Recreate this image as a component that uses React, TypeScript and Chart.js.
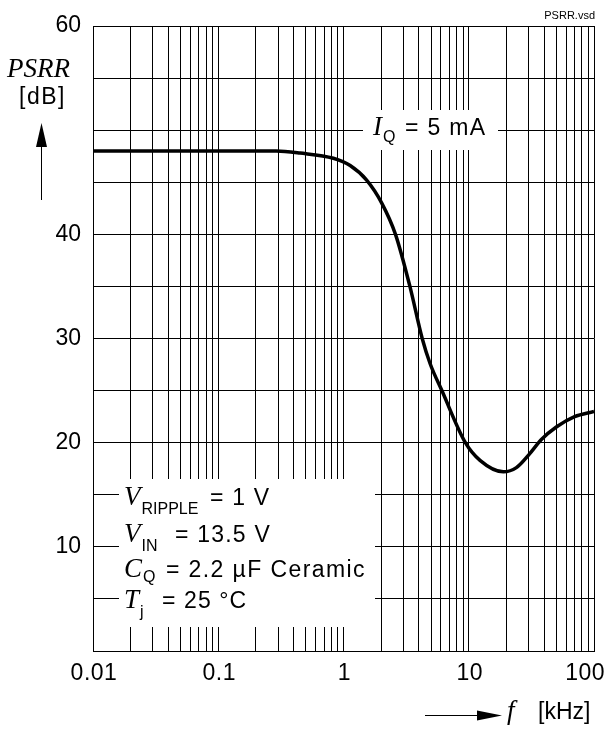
import React, { useEffect, useRef } from "react";
import { Chart, registerables } from "chart.js";

Chart.register(...registerables);

// ---- data ----
const freqKHz = [0.01, 0.1, 0.2, 0.29, 0.45, 0.83, 1.13, 1.53, 2.02, 2.6, 3.39, 4.25, 4.91, 6.1, 9.4, 12.3, 18.9, 24, 30, 38, 50, 70, 100];
const psrrDb = [48, 48, 48, 48, 47.8, 47.3, 46.6, 45.2, 43.0, 40.0, 35.0, 30.0, 27.6, 25.0, 20.0, 18.3, 17.2, 17.6, 18.8, 20.3, 21.5, 22.5, 23.0];

const xGridValues = [
  0.01, 0.02, 0.03, 0.04, 0.05, 0.06, 0.07, 0.08, 0.09,
  0.1, 0.2, 0.3, 0.4, 0.5, 0.6, 0.7, 0.8, 0.9,
  1, 2, 3, 4, 5, 6, 7, 8, 9,
  10, 20, 30, 40, 50, 60, 70, 80, 90,
  100,
];
const xTickValues = [0.01, 0.1, 1, 10, 100];
const xTickLabels = ["0.01", "0.1", "1", "10", "100"];
const yGridValues = [0, 5, 10, 15, 20, 25, 30, 35, 40, 45, 50, 55, 60];
const yTickLabels = [10, 20, 30, 40, 60];

const SANS = "'Liberation Sans', Arial, sans-serif";
const SERIF = "'Liberation Serif', 'Times New Roman', serif";

type Part = [string, string, number, number, number?];

function drawParts(ctx: CanvasRenderingContext2D, parts: Part[]) {
  for (const [text, font, x, y, ls] of parts) {
    ctx.font = font;
    (ctx as any).letterSpacing = `${ls ?? 0}px`;
    ctx.fillText(text, x, y);
  }
  (ctx as any).letterSpacing = "0px";
}

const TXT = `23px ${SANS}`;
const SUB = `16px ${SANS}`;
const ITA = `italic 27px ${SERIF}`;

const decor = {
  id: "decor",
  beforeDatasetsDraw(chart: any) {
    const ctx = chart.ctx as CanvasRenderingContext2D;
    ctx.save();
    ctx.fillStyle = "#ffffff";
    ctx.fillRect(119, 479, 256, 148);
    ctx.fillRect(363, 110, 135, 40);
    ctx.restore();
  },
  afterDraw(chart: any) {
    const ctx = chart.ctx as CanvasRenderingContext2D;
    const xs = chart.scales.x;
    ctx.save();
    ctx.fillStyle = "#000";
    ctx.strokeStyle = "#000";
    ctx.textBaseline = "alphabetic";

    // x tick labels
    ctx.font = TXT;
    (ctx as any).letterSpacing = "0.5px";
    ctx.textAlign = "center";
    xTickValues.forEach((v, i) => {
      let px = xs.getPixelForValue(v);
      const w = ctx.measureText(xTickLabels[i]).width;
      if (px + w / 2 > 604) px = 604 - w / 2;
      ctx.fillText(xTickLabels[i], px + 1, 679.5);
    });
    (ctx as any).letterSpacing = "0px";

    // file name
    ctx.font = `11px ${SANS}`;
    ctx.textAlign = "right";
    ctx.fillText("PSRR.vsd", 595, 19);
    ctx.textAlign = "left";

    // y axis title
    ctx.font = ITA;
    ctx.fillText("PSRR", 7, 77);
    ctx.font = TXT;
    (ctx as any).letterSpacing = "1.5px";
    ctx.fillText("[dB]", 19, 104);
    (ctx as any).letterSpacing = "0px";

    // up arrow
    ctx.lineWidth = 1;
    ctx.beginPath();
    ctx.moveTo(41.5, 200);
    ctx.lineTo(41.5, 142);
    ctx.stroke();
    ctx.beginPath();
    ctx.moveTo(41.5, 123);
    ctx.lineTo(36, 147);
    ctx.lineTo(47, 147);
    ctx.closePath();
    ctx.fill();

    // x axis title arrow
    ctx.beginPath();
    ctx.moveTo(425, 715.5);
    ctx.lineTo(482, 715.5);
    ctx.stroke();
    ctx.beginPath();
    ctx.moveTo(502, 715.5);
    ctx.lineTo(477, 710.5);
    ctx.lineTo(477, 720.5);
    ctx.closePath();
    ctx.fill();
    ctx.font = ITA;
    ctx.fillText("f", 507, 719);
    ctx.font = TXT;
    ctx.fillText("[kHz]", 538, 719);

    // I_Q label
    drawParts(ctx, [
      ["I", ITA, 373, 134.5],
      ["Q", SUB, 383, 142],
      ["= 5 mA", TXT, 405, 134.5, 1.3],
    ]);

    // conditions
    drawParts(ctx, [
      ["V", ITA, 124, 505],
      ["RIPPLE", SUB, 141.5, 514],
      ["= 1 V", TXT, 210, 505, 1.2],
      ["V", ITA, 124, 541.5],
      ["IN", SUB, 141.5, 551],
      ["= 13.5 V", TXT, 175, 541.5, 1.2],
      ["C", ITA, 124, 576.5],
      ["Q", SUB, 143, 581.5],
      ["= 2.2 µF Ceramic", TXT, 166, 576.5, 1.4],
      ["T", ITA, 124, 608],
      ["j", SUB, 140, 617],
      ["= 25 °C", TXT, 162, 608, 1.1],
    ]);
    ctx.restore();
  },
};

export default function App() {
  const ref = useRef<HTMLCanvasElement>(null);

  useEffect(() => {
    if (!ref.current) return;
    const chart = new Chart(ref.current, {
      type: "line",
      data: {
        datasets: [
          {
            data: freqKHz.map((f, i) => ({ x: f, y: psrrDb[i] })),
            borderColor: "#000",
            borderWidth: 3.5,
            pointRadius: 0,
            cubicInterpolationMode: "monotone",
            fill: false,
          },
        ],
      },
      options: {
        responsive: false,
        animation: false,
        devicePixelRatio: 1,
        layout: { padding: { top: 26, right: 14, left: 0, bottom: 0 } },
        plugins: { legend: { display: false }, tooltip: { enabled: false } },
        scales: {
          x: {
            type: "logarithmic",
            min: 0.01,
            max: 100,
            afterBuildTicks: (s: any) => {
              s.ticks = xGridValues.map((v) => ({ value: v }));
            },
            afterFit: (s: any) => {
              s.height = 78;
              s.paddingLeft = 0;
              s.paddingRight = 0;
            },
            ticks: { display: false, autoSkip: false },
            grid: { color: "#000", lineWidth: 1, drawTicks: false },
            border: { color: "#000", width: 1 },
          },
          y: {
            type: "linear",
            min: 0,
            max: 60,
            afterBuildTicks: (s: any) => {
              s.ticks = yGridValues.map((v) => ({ value: v }));
            },
            afterFit: (s: any) => {
              s.width = 93;
            },
            ticks: {
              autoSkip: false,
              padding: 12,
              color: "#000",
              font: { family: SANS, size: 23 },
              callback: (v: any) => (yTickLabels.includes(Number(v)) ? String(v) : ""),
            },
            grid: { color: "#000", lineWidth: 1, drawTicks: false },
            border: { color: "#000", width: 1 },
          },
        },
      },
      plugins: [decor],
    });
    return () => chart.destroy();
  }, []);

  return (
    <div style={{ position: "fixed", left: 0, top: 0, width: 608, height: 729, background: "#fff" }}>
      <canvas ref={ref} width={608} height={729} style={{ width: 608, height: 729 }} />
    </div>
  );
}
